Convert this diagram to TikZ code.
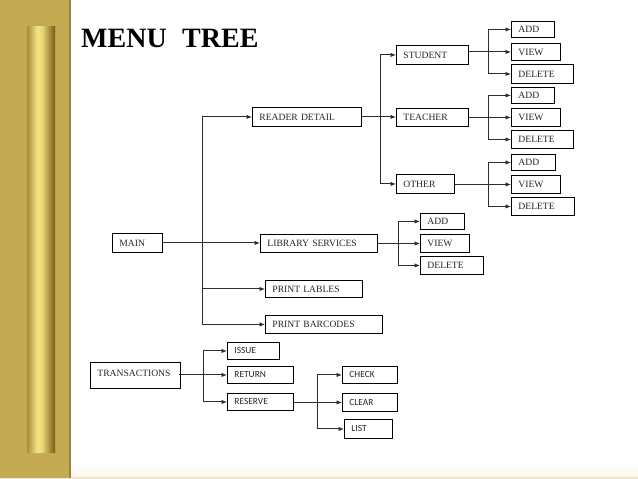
\documentclass[tikz,border=0pt]{standalone}
\usepackage{fontspec}
\setmainfont{Liberation Serif}
\newfontfamily\calfont{Carlito}
\usetikzlibrary{arrows.meta,calc}
\definecolor{gold}{RGB}{196,170,82}
\definecolor{golddark}{RGB}{160,132,52}
\definecolor{barA}{RGB}{168,140,58}
\definecolor{barB}{RGB}{244,228,128}
\definecolor{barC}{RGB}{120,88,24}
\definecolor{cream}{RGB}{250,245,232}
\definecolor{creamline}{RGB}{240,230,205}
\definecolor{lnc}{RGB}{45,45,45}
\pgfdeclarehorizontalshading{barshade}{100bp}{color(0bp)=(barA); color(25bp)=(barA); color(43bp)=(barB); color(52bp)=(barB!85!barA); color(75bp)=(barC); color(100bp)=(barC)}
\tikzset{
  box/.style={draw=black, line width=0.9pt, anchor=north west, inner xsep=7pt, inner ysep=0pt,
              align=left, font=\fontsize{9.6}{11}\selectfont, text=black!85},
  sbox/.style={box, font=\calfont\fontsize{9.4}{11}\selectfont},
  conn/.style={draw=lnc, line width=0.95pt},
  arr/.style={conn, -{Latex[length=5.5pt,width=4.5pt]}},
}
% \bx{name}{x}{y}{w}{h}{style}{text}
\newcommand{\bx}[7]{\node[#6, text width=#4pt-14pt, minimum height=#5pt] (#1) at (#2,#3) {#7};}
\begin{document}
\begin{tikzpicture}[x=1pt,y=-1pt]
\useasboundingbox (0,0) rectangle (638,479);
% background
\fill[white] (0,0) rectangle (638,479);
\shade[top color=white, bottom color=cream] (0,464) rectangle (638,479);
\fill[creamline] (0,476.5) rectangle (638,478.5);
\fill[gold] (0,0) rectangle (70,478);
\fill[golddark] (68.5,0) rectangle (70.5,478);
\shade[shading=barshade] (27,26) rectangle (55,452);
% title
\node[anchor=base west, inner sep=0pt, font=\fontsize{28}{30}\selectfont\bfseries] (title) at (81,47) {MENU\hspace{15.5pt}TREE};
% boxes
\bx{main}{112}{233}{50}{19}{box}{MAIN}
\bx{rd}{252}{107}{109}{19}{box}{READER DETAIL}
\bx{lib}{260}{234}{117}{18}{box}{LIBRARY SERVICES}
\bx{pl}{265}{280}{97}{17}{box}{PRINT LABLES}
\bx{pb}{265}{315}{117}{18}{box}{PRINT BARCODES}
\bx{stu}{396}{45}{72}{19}{box}{STUDENT}
\bx{tea}{396}{108}{72}{18}{box}{TEACHER}
\bx{oth}{396}{174}{58}{19}{box}{OTHER}
\bx{adda}{511}{21}{43}{16}{box}{ADD}
\bx{viewa}{511}{43}{49}{17}{box}{VIEW}
\bx{dela}{511}{64}{62}{19}{box}{DELETE}
\bx{addb}{511}{87}{43}{16}{box}{ADD}
\bx{viewb}{511}{108}{49}{18}{box}{VIEW}
\bx{delb}{511}{130}{62}{18}{box}{DELETE}
\bx{addc}{511}{154}{44}{16}{box}{ADD}
\bx{viewc}{511}{175}{49}{18}{box}{VIEW}
\bx{delc}{511}{197}{63}{18}{box}{DELETE}
\bx{addd}{420}{213}{44}{16}{box}{ADD}
\bx{viewd}{420}{234}{49}{18}{box}{VIEW}
\bx{deld}{420}{256}{63}{18}{box}{DELETE}
\bx{tr}{90}{362}{90}{26}{box}{\raisebox{4pt}{TRANSACTIONS}}
\bx{iss}{227}{342}{52}{17}{sbox}{ISSUE}
\bx{ret}{227}{366}{66}{17}{sbox}{RETURN}
\bx{res}{227}{393}{66}{17}{sbox}{RESERVE}
\bx{chk}{342}{366}{55}{17}{sbox}{CHECK}
\bx{clr}{342}{393}{55}{18}{sbox}{CLEAR}
\bx{lst}{344}{419}{48}{19}{sbox}{LIST}
% branch coordinates
\coordinate (t1) at (202,0);
\coordinate (t2) at (380,0);
\coordinate (t3) at (488,0);
\coordinate (t4) at (398,0);
\coordinate (t5) at (203,0);
\coordinate (t6) at (317,0);
% MAIN tree
\draw[arr] (main.east) -- (main.east -| lib.west);
\draw[conn] (t1 |- rd.west) -- (t1 |- pb.west);
\draw[arr] (t1 |- rd.west) -- (rd.west);
\draw[arr] (t1 |- pl.west) -- (pl.west);
\draw[arr] (t1 |- pb.west) -- (pb.west);
% reader detail
\draw[arr] (rd.east) -- (rd.east -| tea.west);
\draw[conn] (t2 |- stu.west) -- (t2 |- oth.west);
\draw[arr] (t2 |- stu.west) -- (stu.west);
\draw[arr] (t2 |- oth.west) -- (oth.west);
% student
\draw[arr] (stu.east |- viewa.west) -- (viewa.west);
\draw[conn] (t3 |- adda.west) -- (t3 |- dela.west);
\draw[arr] (t3 |- adda.west) -- (adda.west);
\draw[arr] (t3 |- dela.west) -- (dela.west);
% teacher
\draw[arr] (tea.east |- viewb.west) -- (viewb.west);
\draw[conn] (t3 |- addb.west) -- (t3 |- delb.west);
\draw[arr] (t3 |- addb.west) -- (addb.west);
\draw[arr] (t3 |- delb.west) -- (delb.west);
% other
\draw[arr] (oth.east |- viewc.west) -- (viewc.west);
\draw[conn] (t3 |- addc.west) -- (t3 |- delc.west);
\draw[arr] (t3 |- addc.west) -- (addc.west);
\draw[arr] (t3 |- delc.west) -- (delc.west);
% library services
\draw[arr] (lib.east |- viewd.west) -- (viewd.west);
\draw[conn] (t4 |- addd.west) -- (t4 |- deld.west);
\draw[arr] (t4 |- addd.west) -- (addd.west);
\draw[arr] (t4 |- deld.west) -- (deld.west);
% transactions
\draw[arr] ($(tr.east |- ret.west)+(-2,0)$) -- (ret.west);
\draw[conn] (t5 |- iss.west) -- (t5 |- res.west);
\draw[arr] (t5 |- iss.west) -- (iss.west);
\draw[arr] (t5 |- res.west) -- (res.west);
% reserve
\draw[arr] (res.east |- clr.west) -- (clr.west);
\draw[conn] (t6 |- chk.west) -- (t6 |- lst.west);
\draw[arr] (t6 |- chk.west) -- (chk.west);
\draw[arr] (t6 |- lst.west) -- (lst.west);
\end{tikzpicture}
\end{document}
